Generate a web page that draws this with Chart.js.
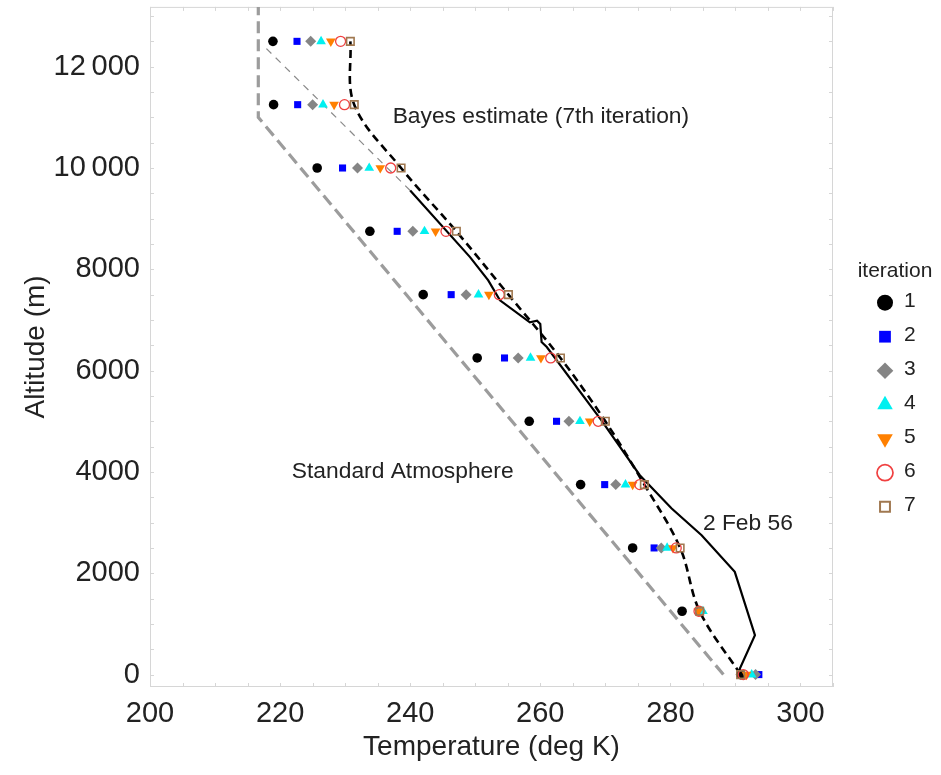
<!DOCTYPE html>
<html>
<head>
<meta charset="utf-8">
<script src="https://cdn.jsdelivr.net/npm/chart.js@4/dist/chart.umd.min.js"></script>
<style>
  html, body { margin: 0; padding: 0; background: #fff; }
  #wrap { width: 941px; height: 775px; position: relative; }
</style>
</head>
<body>
<div id="wrap"><canvas id="c"></canvas></div>
<script>
// Altitude levels (m) at which each iteration estimates the temperature
const altitudes = [0, 1250, 2500, 3750, 5000, 6250, 7500, 8750, 10000, 11250, 12500];

// Temperature estimates (deg K) per iteration, one value per altitude level
const iter1 = [290.8, 281.8, 274.2, 266.2, 258.3, 250.3, 242.0, 233.8, 225.7, 219.0, 218.9];
const iter2 = [293.6, 284.4, 277.5, 269.9, 262.5, 254.5, 246.3, 238.0, 229.6, 222.7, 222.6];
const iter3 = [293.1, 284.6, 278.6, 271.6, 264.4, 256.6, 248.6, 240.4, 231.9, 225.0, 224.7];
const iter4 = [292.5, 285.0, 279.5, 273.1, 266.1, 258.5, 250.5, 242.2, 233.7, 226.6, 226.3];
const iter5 = [291.7, 284.3, 280.4, 274.2, 267.6, 260.1, 252.1, 243.9, 235.4, 228.3, 227.8];
const iter6 = [291.2, 284.4, 280.9, 275.3, 268.9, 261.6, 253.7, 245.5, 237.0, 229.9, 229.3];
const iter7 = [290.8, 284.5, 281.5, 276.0, 270.0, 263.1, 255.1, 247.1, 238.6, 231.4, 230.8];
const iterationNames = ['1', '2', '3', '4', '5', '6', '7'];

// Radiosonde profile of 2 Feb 56
const soundingTemp = [290.5, 290.7, 293.0, 289.9, 284.8, 280.2, 275.3, 269.4, 261.0, 260.2, 260.0, 259.5, 258.4, 253.8, 252.0, 249.2, 240.0];
const soundingAlt  = [0, 122, 779, 2028, 2751, 3278, 3935, 5020, 6466, 6564, 6920, 6985, 6953, 7387, 7781, 8241, 9556];

// Straight continuation of the sounding above its top
const extensionTemp = [240.0, 217.4];
const extensionAlt  = [9556, 12420];

// ICAO standard atmosphere: 6.5 K/km lapse to the tropopause, then isothermal
const standardTemp = [288.15, 216.65, 216.65];
const standardAlt  = [0, 11000, 13500];

// Axis ticks
const xTickValues = [200, 220, 240, 260, 280, 300];
const yTickValues = [0, 2000, 4000, 6000, 8000, 10000, 12000];

const pairs = (xs, ys) => xs.map((v, i) => ({x: v, y: ys[i]}));
const FONT = "'Liberation Sans', Arial, sans-serif";
const INK = '#222';

const markerStyles = [
  {pointStyle: 'circle',   radius: 4.8, legendRadius: 8,   bg: '#000000', border: '#000000', bw: 0,   rot: 0},
  {pointStyle: 'rect',     radius: 5.0, legendRadius: 8.3, bg: '#0000ff', border: '#0000ff', bw: 0,   rot: 0},
  {pointStyle: 'rectRot',  radius: 5.5, legendRadius: 8.3, bg: '#858585', border: '#858585', bw: 0,   rot: 0},
  {pointStyle: 'triangle', radius: 5.6, legendRadius: 9,   bg: '#00f0f0', border: '#00f0f0', bw: 0,   rot: 0},
  {pointStyle: 'triangle', radius: 5.6, legendRadius: 9,   bg: '#ff8000', border: '#ff8000', bw: 0,   rot: 180},
  {pointStyle: 'circle',   radius: 5.0, legendRadius: 8,   bg: 'rgba(0,0,0,0)', border: '#f04040', bw: 1.3, rot: 0},
  {pointStyle: 'rect',     radius: 5.3, legendRadius: 7,   bg: 'rgba(0,0,0,0)', border: '#a07850', bw: 1.6, rot: 0}
];

const iterations = [iter1, iter2, iter3, iter4, iter5, iter6, iter7];

// Later iterations are painted over earlier ones; all markers sit above the curves
const markerSets = iterations.map((vals, i) => {
  const s = markerStyles[i];
  return {
    label: iterationNames[i],
    order: -(i + 1),
    data: pairs(vals, altitudes),
    showLine: false,
    pointStyle: s.pointStyle,
    pointRadius: s.radius,
    pointRotation: s.rot,
    pointBackgroundColor: s.bg,
    pointBorderColor: s.border,
    pointBorderWidth: s.bw,
    pointHoverRadius: s.radius,
    legendRadius: s.legendRadius
  };
});

const lineSets = [
  { label: 'Bayes estimate', order: 0, data: pairs(iter7, altitudes), showLine: true, pointRadius: 0,
    borderColor: '#000', borderWidth: 2.6, borderDash: [8, 5], tension: 0.35, fill: false },
  { label: '2 Feb 56', order: 0, data: pairs(soundingTemp, soundingAlt), showLine: true, pointRadius: 0,
    borderColor: '#000', borderWidth: 2.2, tension: 0, fill: false },
  { label: 'extension', order: 0, data: pairs(extensionTemp, extensionAlt), showLine: true, pointRadius: 0,
    borderColor: '#8a8a8a', borderWidth: 1.2, borderDash: [7, 6], tension: 0, fill: false },
  { label: 'Standard Atmosphere', order: 0, data: pairs(standardTemp, standardAlt), showLine: true, pointRadius: 0,
    borderColor: '#9c9c9c', borderWidth: 3.2, borderDash: [12, 6], tension: 0, fill: false }
];

// Text placed in data coordinates next to the curves
const notes = [
  {text: 'Bayes estimate (7th iteration)', x: 237.3, y: 11016},
  {text: 'Standard Atmosphere', x: 221.8, y: 4013},
  {text: '2 Feb 56', x: 285.0, y: 2988}
];

// Light frame with inward tick marks on all four sides
const frameTicks = {
  id: 'frameTicks',
  beforeDatasetsDraw(chart) {
    const {ctx, chartArea: a, scales: {x, y}} = chart;
    const len = 4;
    ctx.save();
    ctx.strokeStyle = '#d6d6d6';
    ctx.lineWidth = 1;
    ctx.strokeRect(a.left + 0.5, a.top + 0.5, a.right - a.left - 1, a.bottom - a.top - 1);
    ctx.beginPath();
    for (let t = x.min; t <= x.max + 1e-9; t += 5) {
      const px = Math.round(x.getPixelForValue(t)) + 0.5;
      ctx.moveTo(px, a.bottom); ctx.lineTo(px, a.bottom - len);
      ctx.moveTo(px, a.top); ctx.lineTo(px, a.top + len);
    }
    for (let h = 0; h <= y.max; h += 500) {
      const py = Math.round(y.getPixelForValue(h)) + 0.5;
      ctx.moveTo(a.left, py); ctx.lineTo(a.left + len, py);
      ctx.moveTo(a.right, py); ctx.lineTo(a.right - len, py);
    }
    ctx.stroke();
    ctx.restore();
  }
};

const noteLabels = {
  id: 'noteLabels',
  afterDatasetsDraw(chart) {
    const {ctx, scales: {x, y}} = chart;
    ctx.save();
    ctx.fillStyle = INK;
    ctx.font = '22.8px ' + FONT;
    ctx.textAlign = 'left';
    ctx.textBaseline = 'middle';
    notes.forEach(n => ctx.fillText(n.text, x.getPixelForValue(n.x), y.getPixelForValue(n.y)));
    ctx.restore();
  }
};

// Legend for the iteration markers, drawn to the right of the plot
const iterationLegend = {
  id: 'iterationLegend',
  afterDraw(chart) {
    const {ctx} = chart;
    const cx = 885, tx = 904, top = 302.7, step = 34;
    ctx.save();
    ctx.fillStyle = INK;
    ctx.font = '21px ' + FONT;
    ctx.textAlign = 'center';
    ctx.textBaseline = 'middle';
    ctx.fillText('iteration', 895, 271);
    ctx.textAlign = 'left';
    chart.data.datasets.slice(0, iterationNames.length).forEach((ds, i) => {
      const yy = top + i * step;
      ctx.save();
      ctx.fillStyle = ds.pointBackgroundColor;
      ctx.strokeStyle = ds.pointBorderColor;
      ctx.lineWidth = ds.pointBorderWidth ? ds.pointBorderWidth + 0.4 : 0;
      Chart.helpers.drawPoint(ctx, {
        pointStyle: ds.pointStyle, rotation: ds.pointRotation,
        radius: ds.legendRadius, borderWidth: ds.pointBorderWidth
      }, cx, yy);
      ctx.restore();
      ctx.fillStyle = INK;
      ctx.fillText(ds.label, tx, yy - 1);
    });
    ctx.restore();
  }
};

const fixTicks = values => scale => { scale.ticks = values.map(v => ({value: v})); };
const groupDigits = v => v >= 10000 ? String(v).replace(/(\d)(?=(\d{3})+$)/g, '$1\u2009') : String(v);

new Chart(document.getElementById('c'), {
  type: 'scatter',
  data: { datasets: [...markerSets, ...lineSets] },
  options: {
    responsive: true,
    maintainAspectRatio: false,
    animation: false,
    devicePixelRatio: 1,
    layout: { padding: { top: 6, right: 108, bottom: 0, left: 0 } },
    plugins: { legend: { display: false }, tooltip: { enabled: false } },
    scales: {
      x: {
        type: 'linear', min: 200, max: 305,
        afterBuildTicks: fixTicks(xTickValues),
        afterFit: s => { s.height = 88; s.paddingLeft = 0; s.paddingRight = 0; },
        grid: { display: false, drawTicks: false },
        border: { display: false },
        ticks: { font: { size: 29, family: FONT }, color: INK, padding: 10, maxRotation: 0, autoSkip: false },
        title: { display: true, text: 'Temperature (deg K)', color: INK,
                 font: { size: 28, family: FONT }, padding: { top: 0, bottom: 11 } }
      },
      y: {
        type: 'linear', min: -245, max: 13180,
        afterBuildTicks: fixTicks(yTickValues),
        afterFit: s => { s.width = 150; s.paddingTop = 0; s.paddingBottom = 0; },
        grid: { display: false, drawTicks: false },
        border: { display: false },
        ticks: { font: { size: 29, family: FONT }, color: INK, padding: 10, autoSkip: false,
                 callback: v => groupDigits(v) },
        title: { display: true, text: 'Altitude (m)', color: INK,
                 font: { size: 28, family: FONT }, padding: { top: 19, bottom: 0 } }
      }
    }
  },
  plugins: [frameTicks, noteLabels, iterationLegend]
});
</script>
</body>
</html>
